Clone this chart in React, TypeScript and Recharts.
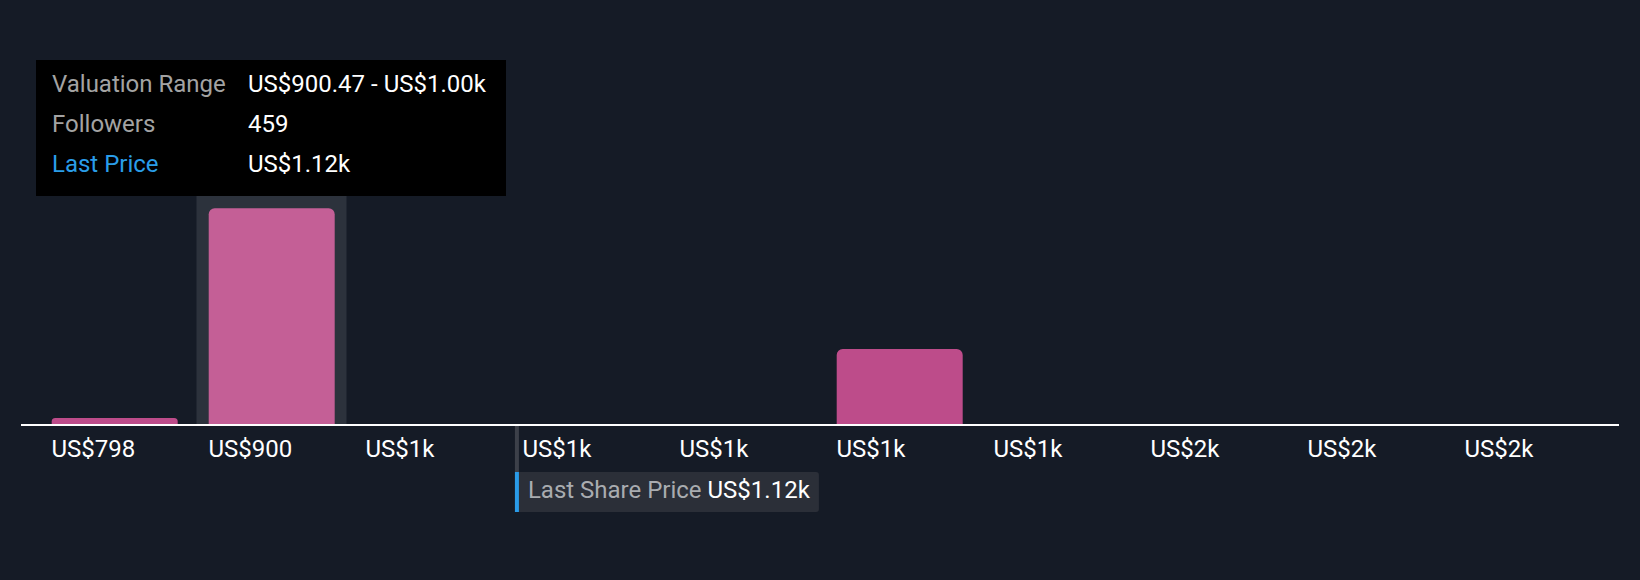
import React from 'react';
import { BarChart, Bar, XAxis, YAxis, Tooltip, ReferenceLine, Cell } from 'recharts';

// histogram bins of fair value estimates
const binLabels = ['US$798', 'US$900', 'US$1k', 'US$1k', 'US$1k', 'US$1k', 'US$1k', 'US$2k', 'US$2k', 'US$2k'];
const binLow = [798.0, 900.47, 1002.9, 1105.4, 1207.9, 1310.3, 1412.8, 1515.3, 1617.7, 1720.2];
const binHigh = [900.47, 1002.9, 1105.4, 1207.9, 1310.3, 1412.8, 1515.3, 1617.7, 1720.2, 1822.7];
const followers = [15, 459, 0, 0, 0, 161, 0, 0, 0, 0];

const lastPrice = 1116;
const lastPriceLabel = 'US$1.12k';
const priceDomain = [798, 1822.7];
const activeBin = 1;

const BG = '#151b26';
const BAR = '#bd4c8a';
const BAR_ACTIVE = '#c45f96';
const FONT = 'Roboto, "Noto Sans", sans-serif';

const data = binLabels.map((label, i) => ({
    key: String(i),
    label,
    low: binLow[i],
    high: binHigh[i],
    followers: followers[i],
}));

const fmtPrice = (v: number) => (v >= 1000 ? `US$${(v / 1000).toFixed(2)}k` : `US$${v.toFixed(2)}`);

function BinTick({ x, y, payload }: any) {
    return (
        <text x={x - 63} y={y + 32} fill="#ffffff" fontSize={24} fontFamily={FONT}>
            {binLabels[payload.index]}
        </text>
    );
}

function BandCursor({ x, y, width, height }: any) {
    return <rect x={x + 3.5} y={y} width={width - 7} height={height} fill="#2c323c" />;
}

function PriceMarker(props: any) {
    const x = props.x1;
    const bottom = Math.max(props.y1, props.y2);
    return (
        <g>
            <rect x={x - 2} y={bottom} width={4} height={47} fill="#3c4049" />
            <rect x={x - 2} y={bottom + 47} width={304} height={40} rx={3} fill="#2b2f38" />
            <rect x={x - 2} y={bottom + 47} width={4} height={40} fill="#2a9be8" />
            <text x={x + 11} y={bottom + 73} fontSize={24} fontFamily={FONT}>
                <tspan fill="#a9acb0">Last Share Price </tspan>
                <tspan fill="#ffffff">{lastPriceLabel}</tspan>
            </text>
        </g>
    );
}

function RangeTooltip({ payload }: any) {
    const row = payload && payload.length ? payload[0].payload : data[activeBin];
    const labelStyle = { display: 'inline-block', width: 196, color: '#a3a3a3' };
    return (
        <div
            style={{
                width: 470,
                height: 136,
                boxSizing: 'border-box',
                padding: '4px 16px 12px',
                background: '#000000',
                color: '#ffffff',
                fontFamily: FONT,
                fontSize: 24,
                lineHeight: '40px',
                whiteSpace: 'nowrap',
            }}
        >
            <div>
                <span style={labelStyle}>Valuation Range</span>
                <span>{fmtPrice(row.low)} - {fmtPrice(row.high)}</span>
            </div>
            <div>
                <span style={labelStyle}>Followers</span>
                <span>{row.followers}</span>
            </div>
            <div>
                <span style={{ ...labelStyle, color: '#2a9de8' }}>Last Price</span>
                <span>{lastPriceLabel}</span>
            </div>
        </div>
    );
}

export default function App() {
    return (
        <div style={{ position: 'absolute', left: 0, top: 0, width: 1640, height: 580, background: BG }}>
            <BarChart
                width={1640}
                height={580}
                data={data}
                margin={{ top: 189, right: 21, bottom: 115, left: 21 }}
                barCategoryGap="10%"
            >
                <XAxis
                    dataKey="key"
                    height={40}
                    padding={{ left: 15, right: 13 }}
                    stroke="#ffffff"
                    axisLine={{ stroke: '#ffffff', strokeWidth: 2 }}
                    tickLine={false}
                    tickSize={0}
                    tickMargin={0}
                    tick={<BinTick />}
                    interval={0}
                />
                <XAxis xAxisId="price" type="number" dataKey="low" domain={priceDomain} hide />
                <YAxis hide domain={[0, 500]} />
                <Tooltip
                    active
                    defaultIndex={activeBin}
                    position={{ x: 36, y: 60 }}
                    cursor={<BandCursor />}
                    content={<RangeTooltip />}
                    isAnimationActive={false}
                    wrapperStyle={{ outline: 'none', zIndex: 10 }}
                />
                <Bar dataKey="followers" radius={[6, 6, 0, 0]} isAnimationActive={false}>
                    {data.map((d, i) => (
                        <Cell key={d.key} fill={i === activeBin ? BAR_ACTIVE : BAR} />
                    ))}
                </Bar>
                <ReferenceLine xAxisId="price" x={lastPrice} stroke="none" shape={PriceMarker} />
            </BarChart>
        </div>
    );
}
